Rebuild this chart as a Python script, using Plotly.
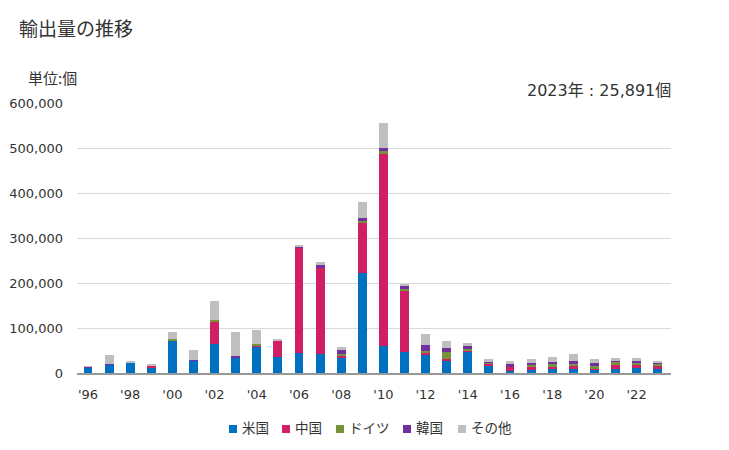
import plotly.graph_objects as go

years = list(range(1996, 2024))
tick_vals = list(range(1996, 2024, 2))
tick_text = ["'96", "'98", "'00", "'02", "'04", "'06", "'08", "'10", "'12", "'14", "'16", "'18", "'20", "'22"]
y_tick_vals = [0, 100000, 200000, 300000, 400000, 500000, 600000]
y_tick_text = ["0", "100,000", "200,000", "300,000", "400,000", "500,000", "600,000"]

us = [12500, 17800, 22000, 13300, 73300, 26700, 65000, 34000, 57800, 35500,
      44400, 43000, 34000, 222000, 61000, 47400, 40000, 26700, 47400, 16200,
      4400, 6700, 8900, 8900, 6700, 8900, 11800, 9000]
china = [800, 500, 0, 2200, 0, 0, 50500, 0, 3500, 35500,
         234600, 191000, 4400, 113500, 425500, 137000, 5200, 4400, 3700, 4400,
         8900, 6700, 4400, 6700, 4400, 8900, 5900, 7000]
germany = [0, 0, 0, 0, 2000, 0, 2000, 0, 3500, 0,
           0, 0, 3700, 4400, 9000, 2000, 3700, 15500, 2200, 2200,
           0, 4400, 6700, 4400, 4400, 6700, 6700, 4500]
korea = [700, 2200, 0, 0, 0, 2000, 0, 3500, 0, 0,
         1200, 6000, 8900, 4400, 4400, 6000, 13300, 8900, 6700, 3700,
         8900, 5200, 5200, 6700, 6700, 2200, 2200, 800]
others = [1000, 20000, 4600, 4500, 16000, 22000, 42000, 53000, 31000, 4500,
          3800, 6700, 6700, 35500, 55500, 5500, 24400, 15500, 6700, 4400,
          4400, 8100, 10400, 15500, 8900, 6700, 6700, 4591]

names = ["米国", "中国", "ドイツ", "韓国", "その他"]
colors = ["#0070c0", "#d01f65", "#76933c", "#7030a0", "#bfbfbf"]
values = [us, china, germany, korea, others]

FONT = "DejaVu Sans, Noto Sans CJK JP, sans-serif"
TXT = "#333333"

# page is offset by the 8px body margin; figure size compensates
W, H = 721, 442
ML, MR, MT, MB = 69, 58, 95, 77
PW, PH = W - ML - MR, H - MT - MB

def px(page_x):
    return (page_x - 8 - ML) / PW

def py(page_y):
    return (H - MB - (page_y - 8)) / PH

fig = go.Figure()
for name, vals, color in zip(names, values, colors):
    fig.add_trace(go.Bar(x=years, y=vals, name=name,
                         marker=dict(color=color, line=dict(width=0))))

annotations = [
    dict(text="輸出量の推移", x=px(17), y=py(27), xanchor="left", yanchor="middle",
         font=dict(size=19, color=TXT, family="Noto Sans CJK JP")),
    dict(text="単位:個", x=px(26), y=py(77), xanchor="left", yanchor="middle",
         font=dict(size=15, color=TXT, family="Noto Sans CJK JP")),
    dict(text="2023年 : 25,891個", x=px(673), y=py(91), xanchor="right", yanchor="middle",
         font=dict(size=16, color=TXT)),
]
shapes = []
legend_sq_x = [229, 282, 336, 403, 458]
for i, (name, color) in enumerate(zip(names, colors)):
    x0 = legend_sq_x[i]
    shapes.append(dict(type="rect", xref="paper", yref="paper",
                       x0=px(x0), x1=px(x0 + 8), y0=py(433), y1=py(425),
                       fillcolor=color, line=dict(width=0)))
    annotations.append(dict(text=name, x=px(x0 + 11), y=py(427), xanchor="left", yanchor="middle",
                            font=dict(size=13.5, color=TXT, family="Noto Sans CJK JP")))
for a in annotations:
    a.update(xref="paper", yref="paper", showarrow=False)

fig.update_layout(
    barmode="stack",
    bargap=0.58,
    width=W, height=H,
    margin=dict(l=ML, r=MR, t=MT, b=MB, autoexpand=False),
    paper_bgcolor="white", plot_bgcolor="white",
    font=dict(family=FONT, size=13, color=TXT),
    showlegend=False,
    xaxis=dict(tickmode="array", tickvals=tick_vals, ticktext=tick_text,
               range=[1995.48, 2023.63], showgrid=False, showline=True,
               linecolor="#999999", linewidth=2, ticks="", ticklabelstandoff=8,
               tickfont=dict(size=13, color=TXT)),
    yaxis=dict(range=[0, 600000], tickmode="array", tickvals=y_tick_vals, ticktext=y_tick_text,
               showgrid=True, gridcolor="#d9d9d9", gridwidth=1, zeroline=False,
               ticks="", ticklabelstandoff=13, tickfont=dict(size=13, color=TXT)),
    annotations=annotations,
    shapes=shapes,
)

fig.write_html("out.html")
